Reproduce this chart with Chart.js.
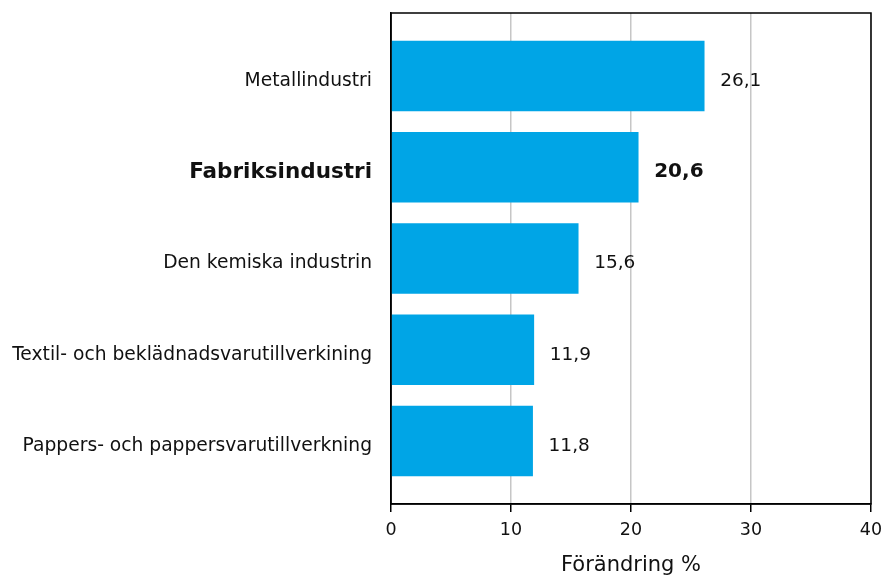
<!DOCTYPE html>
<html>
<head>
<meta charset="utf-8">
<script src="https://cdn.jsdelivr.net/npm/chart.js@4"></script>
<style>
  html, body { margin: 0; padding: 0; background: #fff; }
  #wrap { width: 883px; height: 580px; }
</style>
</head>
<body>
<div id="wrap"><canvas id="chart"></canvas></div>
<script>
const BRANSCHER = ['Metallindustri', 'Fabriksindustri', 'Den kemiska industrin', 'Textil- och beklädnadsvarutillverkining', 'Pappers- och pappersvarutillverkning'];
const FORANDRING = [26.1, 20.6, 15.6, 11.9, 11.8];
const X_TICKS = [0, 10, 20, 30, 40];
const MARKERAD = 1; // Fabriksindustri i fetstil

const FONT = 'DejaVu Sans';
const BLA = '#00a5e6';

const fmt = v => v.toFixed(1).replace('.', ',');

// ram runt ritytan
const ram = {
  id: 'ram',
  afterDatasetsDraw(chart) {
    const { ctx, chartArea: a } = chart;
    ctx.save();
    ctx.strokeStyle = '#000';
    ctx.lineWidth = 1.5;
    ctx.strokeRect(a.left, a.top, a.right - a.left, a.bottom - a.top);
    ctx.restore();
  }
};

// värdena till höger om staplarna
const varden = {
  id: 'varden',
  afterDatasetsDraw(chart) {
    const { ctx, scales: { x, y } } = chart;
    ctx.save();
    ctx.textBaseline = 'middle';
    ctx.textAlign = 'left';
    ctx.fillStyle = '#111';
    FORANDRING.forEach((v, i) => {
      const bold = i === MARKERAD;
      ctx.font = bold ? `bold 20px "${FONT}"` : `18.5px "${FONT}"`;
      ctx.fillText(fmt(v), x.getPixelForValue(v) + 16, y.getPixelForValue(i) + 5);
    });
    ctx.restore();
  }
};

new Chart(document.getElementById('chart'), {
  type: 'bar',
  data: {
    datasets: [{
      data: FORANDRING.map((v, i) => ({ x: v, y: i })),
      backgroundColor: BLA,
      borderWidth: 0,
      barThickness: 70,
    }],
  },
  options: {
    indexAxis: 'y',
    responsive: true,
    maintainAspectRatio: false,
    animation: false,
    layout: { padding: { top: 13, right: 12, left: 0, bottom: 0 } },
    plugins: { legend: { display: false }, tooltip: { enabled: false } },
    scales: {
      x: {
        type: 'linear',
        min: 0, max: 40,
        afterBuildTicks: ax => { ax.ticks = X_TICKS.map(v => ({ value: v })); },
        afterFit: ax => { ax.height = 76; ax.paddingLeft = 0; ax.paddingRight = 0; },
        grid: { color: '#c6c6c6', lineWidth: 1.5, tickColor: '#000', tickLength: 8 },
        border: { display: true, color: '#000', width: 1.5 },
        ticks: { color: '#111', padding: 8, font: { family: FONT, size: 17.5 } },
        title: {
          display: true,
          text: 'Förändring %',
          color: '#111',
          padding: { top: 0, bottom: 2 },
          font: { family: FONT, size: 21 },
        },
      },
      y: {
        type: 'linear',
        reverse: true,
        offset: false,
        min: -0.69, max: 4.69,
        afterBuildTicks: ax => { ax.ticks = BRANSCHER.map((_, i) => ({ value: i })); },
        afterFit: ax => { ax.width = 391; ax.paddingTop = 0; ax.paddingBottom = 0; },
        grid: { display: false, offset: false },
        border: { display: true, color: '#000', width: 1.5 },
        ticks: {
          color: '#111',
          padding: 11,
          labelOffset: 5,
          callback: v => BRANSCHER[v],
          font: ctx => ctx.index === MARKERAD
            ? { family: FONT, size: 21.5, weight: 'bold' }
            : { family: FONT, size: 18.7 },
        },
      },
    },
  },
  plugins: [ram, varden],
});
</script>
</body>
</html>
